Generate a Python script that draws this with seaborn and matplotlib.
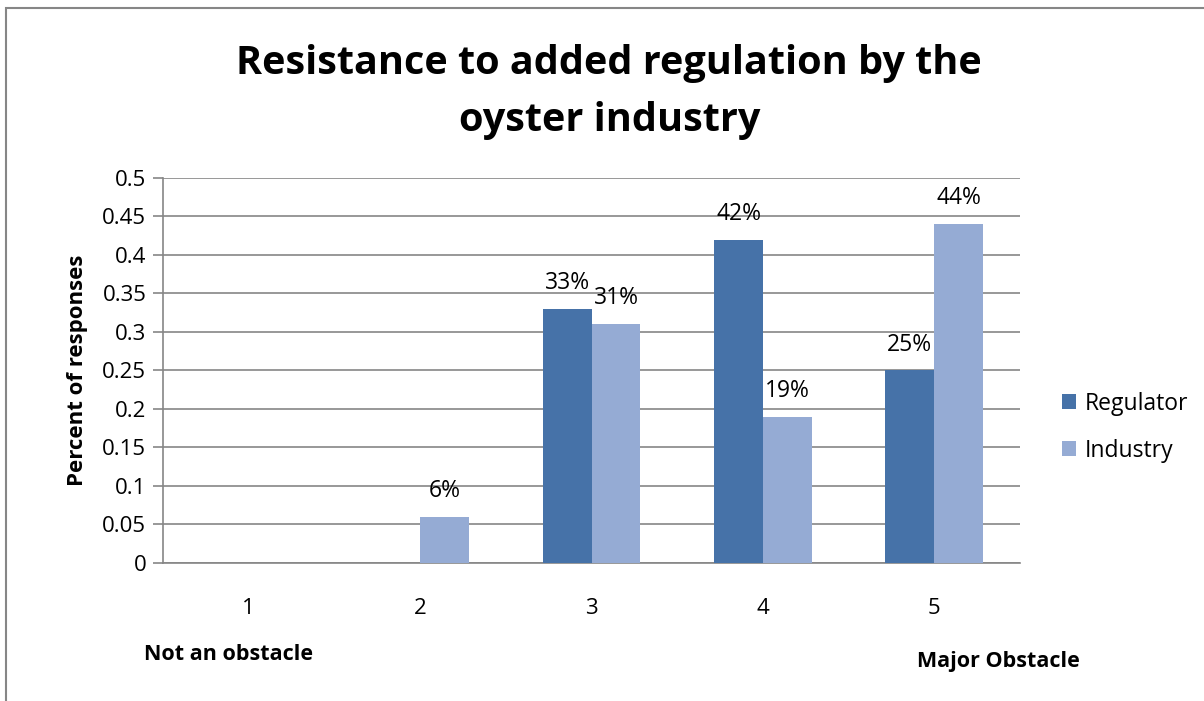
import pandas as pd
import numpy as np
import matplotlib.pyplot as plt
import seaborn as sns
from matplotlib.patches import Rectangle

# data
levels = ['1', '2', '3', '4', '5']
regulator = [0, 0, 0.33, 0.42, 0.25]
industry = [0, 0.06, 0.31, 0.19, 0.44]
groups = ['Regulator', 'Industry']

df = pd.DataFrame({
    'level': levels * 2,
    'share': regulator + industry,
    'group': [groups[0]] * 5 + [groups[1]] * 5,
})

sns.set_style('white')
plt.rcParams['font.family'] = ['Open Sans', 'DejaVu Sans']
plt.rcParams['text.color'] = 'black'
plt.rcParams['xtick.color'] = 'black'
plt.rcParams['ytick.color'] = 'black'
plt.rcParams['axes.labelcolor'] = 'black'

fig = plt.figure(figsize=(12.04, 7.01), dpi=100)
ax = fig.add_axes([0.1354, 0.1969, 0.7118, 0.5492])

sns.barplot(data=df, x='level', y='share', hue='group', ax=ax,
            palette=['#4672A8', '#95ABD4'], width=0.57, saturation=1,
            gap=0, errorbar=None, linewidth=0, zorder=3)

for cont, vals in zip(ax.containers, [regulator, industry]):
    labs = ['' if v == 0 else f'{v*100:.0f}%' for v in vals]
    ax.bar_label(cont, labels=labs, padding=10, fontsize=16.5)

ax.set_ylim(0, 0.5)
ax.set_xlim(-0.5, 4.5)
ax.set_yticks(np.arange(0, 0.501, 0.05))
ax.set_yticklabels(['0', '0.05', '0.1', '0.15', '0.2', '0.25', '0.3', '0.35',
                    '0.4', '0.45', '0.5'])
ax.yaxis.grid(True, color='#868686', linewidth=1.2, zorder=0)
ax.tick_params(axis='y', left=True, length=7, color='#868686', width=1.2,
               labelsize=16, pad=5)
ax.tick_params(axis='x', bottom=False, labelsize=16, pad=22)
for side in ['top', 'right']:
    ax.spines[side].set_visible(False)
for side in ['left', 'bottom']:
    ax.spines[side].set_color('#868686')
    ax.spines[side].set_linewidth(1.2)
ax.set_xlabel('')
ax.set_ylabel('Percent of responses', fontsize=16, fontweight='bold', labelpad=10)

ax.legend(loc='center left', bbox_to_anchor=(1.025, 0.353), frameon=False,
          fontsize=16.5, handlelength=0.6, handleheight=0.6, labelspacing=1.0,
          handletextpad=0.4)

fig.text(0.506, 1 - 92 / 701, 'Resistance to added regulation by the\noyster industry',
         ha='center', va='center', fontsize=28.5, fontweight='bold',
         linespacing=1.6)

fig.text(0.12, 1 - 655 / 701, 'Not an obstacle', fontsize=15.5,
         fontweight='bold', va='center')
fig.text(0.762, 1 - 662 / 701, 'Major Obstacle', fontsize=15.5,
         fontweight='bold', va='center')

fig.patches.append(Rectangle((0.005, -0.02), 1.2, 0.9886 + 0.02,
                             transform=fig.transFigure, fill=False,
                             edgecolor='#868686', linewidth=1.5))

fig.savefig('out.png', dpi=100)
